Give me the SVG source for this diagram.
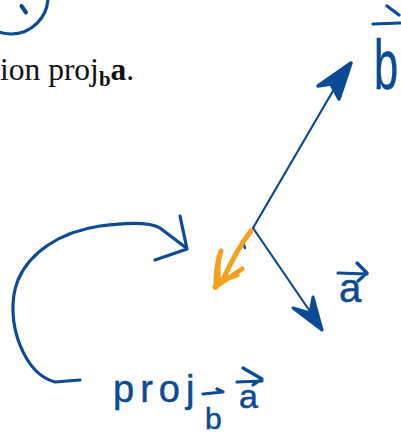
<svg xmlns="http://www.w3.org/2000/svg" width="401" height="437" viewBox="0 0 401 437">
<style>
.ink{fill:none;stroke:#0b4a94;stroke-linecap:round;stroke-linejoin:round}
.thin{stroke-width:2.2}
.pen{stroke-width:3.2}
.orange{fill:none;stroke:#f5a01e;stroke-width:5;stroke-linecap:round;stroke-linejoin:round}
.hand{font-family:"Liberation Sans","DejaVu Sans",sans-serif;fill:#0b4a94;stroke:#0b4a94;stroke-width:0.5}
.print{font-family:"Liberation Serif","Times New Roman",serif;fill:#111}
</style>
<rect width="401" height="437" fill="#fff"/>
<g id="corner-mark">
<circle class="ink pen" cx="11" cy="-3" r="37"/>
<path class="ink" stroke-width="4" d="M21.5,6 L26,12.5"/>
</g>
<text class="print" x="0" y="80" font-size="31.5">ion proj<tspan font-weight="bold" font-size="21" dy="6">b</tspan><tspan font-weight="bold" dy="-6">a</tspan>.</text>
<g id="connectors">
<g id="vector-b">
<path class="ink thin" d="M253,228 L344,72"/>
<path d="M351,63 L318,86 L331,84 L339,99 Z" fill="#0b4a94" stroke="#0b4a94" stroke-width="3.5" stroke-linejoin="round"/>
</g>
<g id="vector-a">
<path class="ink thin" d="M253,228 L320,326"/>
<path d="M293,308 L322,330 L313,297 L310,313 Z" fill="#0b4a94" stroke="#0b4a94" stroke-width="3" stroke-linejoin="round"/>
</g>
<path class="ink" stroke-width="2.5" d="M243.5,243 L245,248"/>
<g id="projection-arrow">
<path class="orange" d="M251,231 Q236,250 222,282"/>
<path class="orange" d="M221,251 Q215,270 216,287"/>
<path class="orange" d="M219,256 Q217,270 219,283"/>
<path class="orange" d="M215,287 L242,269"/>
<path class="orange" d="M220,281 L237,275"/>
</g>
<g id="curved-arrow">
<path class="ink pen" d="M80,380 L55,382 C40,378 28,365 20,345 C12,325 10,300 18,280 C30,252 60,232 100,226 C130,222 150,222 160,228 L185,247"/>
<path class="ink pen" d="M180,216 L187,249 L155,260"/>
</g>
</g>
<g id="label-b">
<text class="hand" transform="translate(374,89) scale(0.62,1)" font-size="70">b</text>
<path class="ink pen" d="M373,24 L400,23 M387,6 L399,15"/>
</g>
<g id="label-a">
<text class="hand" x="339" y="302" font-size="40">a</text>
<path class="ink pen" d="M338,273 L367,274 M357,263 L367,273 L358,281"/>
</g>
<g id="label-proj">
<text class="hand" x="113" y="402" font-size="38" letter-spacing="6">proj</text>
<text class="hand" x="205" y="429" font-size="30">b</text>
<path class="ink pen" d="M203,394 L223,392 L217,389"/>
<text class="hand" x="239" y="408" font-size="34">a</text>
<path class="ink pen" d="M237,382 L262,381 M243,368 L262,379 L253,385"/>
</g>
</svg>
